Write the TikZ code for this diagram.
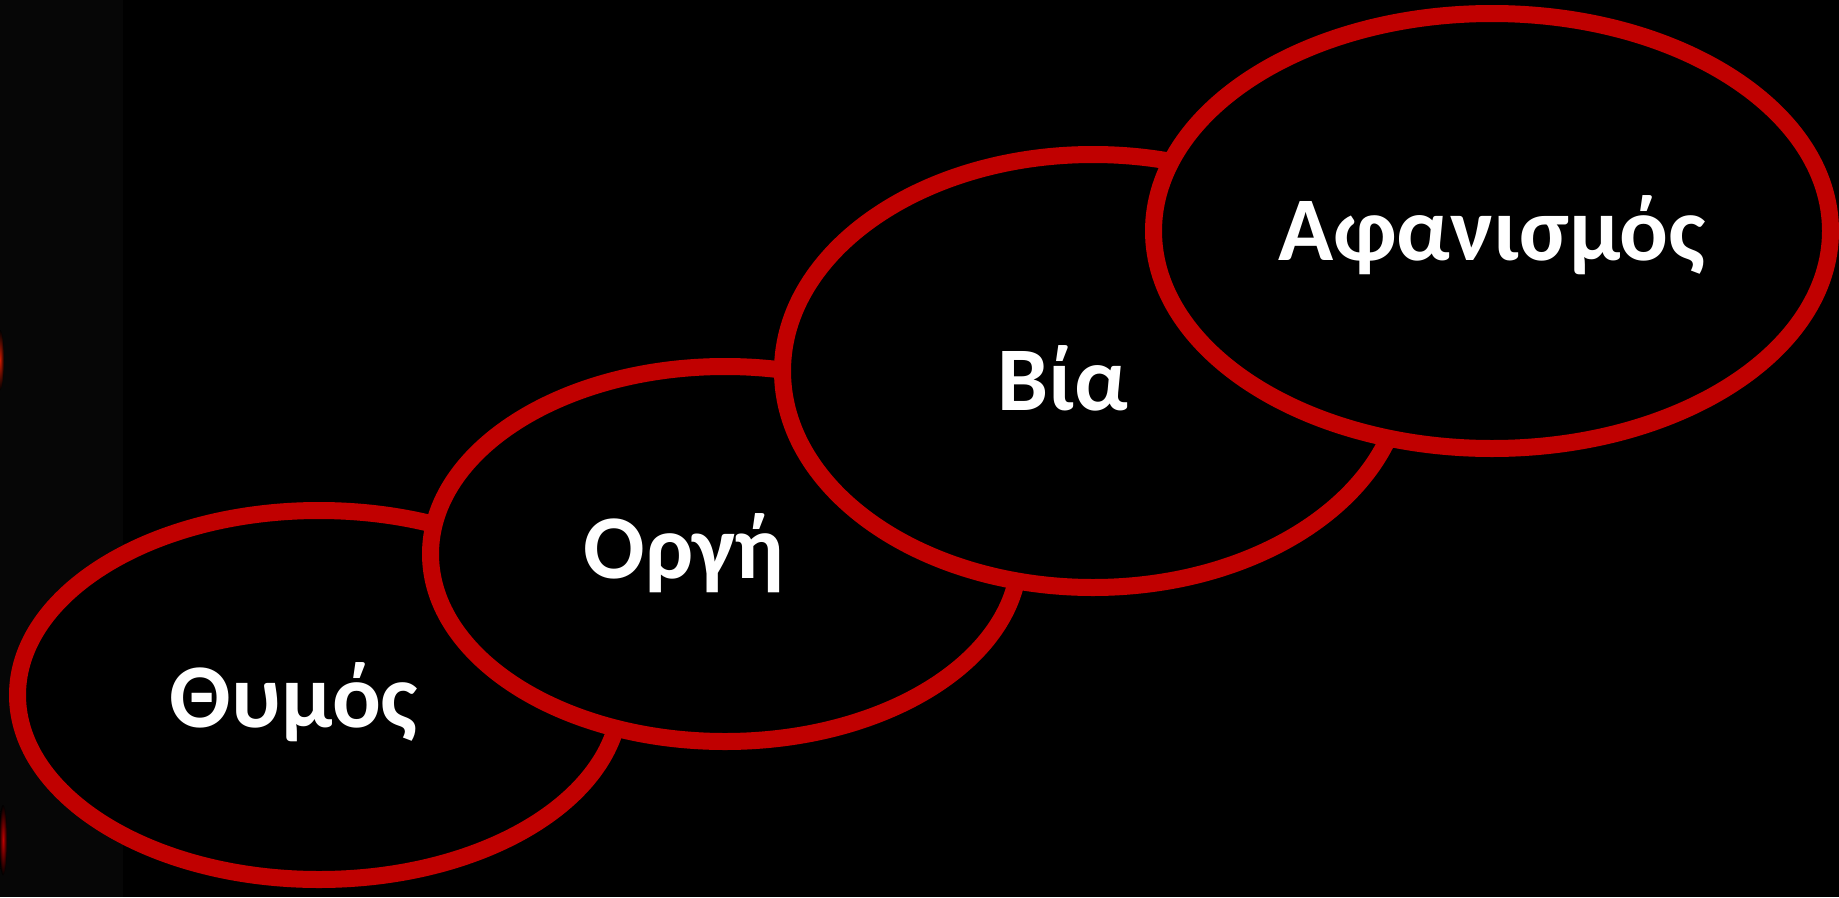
\documentclass[tikz,border=0pt]{standalone}
\usepackage{fontspec}
\setmainfont{Carlito}
\usetikzlibrary{shapes.geometric}
\definecolor{ringred}{HTML}{C00000}
\definecolor{sidebg}{HTML}{060606}
\begin{document}
\begin{tikzpicture}[x=1pt,y=-1pt,
  ring/.style={ellipse, draw=ringred, line width=17pt, fill=black, inner sep=0pt},
  lbl/.style={text=white, font=\fontsize{91}{108}\selectfont\bfseries, inner sep=0pt, anchor=base},
  glow/.style={inner color=ringred!80!orange, outer color=black, draw=none}]
\fill[black] (0,0) rectangle (1839,897);
\fill[sidebg] (0,0) rectangle (123,897);
\useasboundingbox (0,0) rectangle (1839,897);
% faint red glows at the left edge
\shade[glow] (0,360) ellipse (4 and 30);
\shade[glow, inner color=ringred] (3,840) ellipse (4 and 35);
% rings, back to front
\node[ring, minimum width=603pt, minimum height=369pt] (thumos) at (319,695) {};
\node[ring, minimum width=589pt, minimum height=375pt] (orgi) at (725,554) {};
\node[ring, minimum width=621pt, minimum height=433pt] (bia) at (1093,371) {};
\node[ring, minimum width=677pt, minimum height=435pt] (afan) at (1492,231) {};
% labels
\node[lbl] (tthumos) at (294,727) {Θυμός};
\node[lbl] (torgi) at (684,578) {Οργή};
\node[lbl] (tbia) at (1063,410) {Βία};
\node[lbl] (tafan) at (1492,260) {Αφανισμός};
\end{tikzpicture}
\end{document}
